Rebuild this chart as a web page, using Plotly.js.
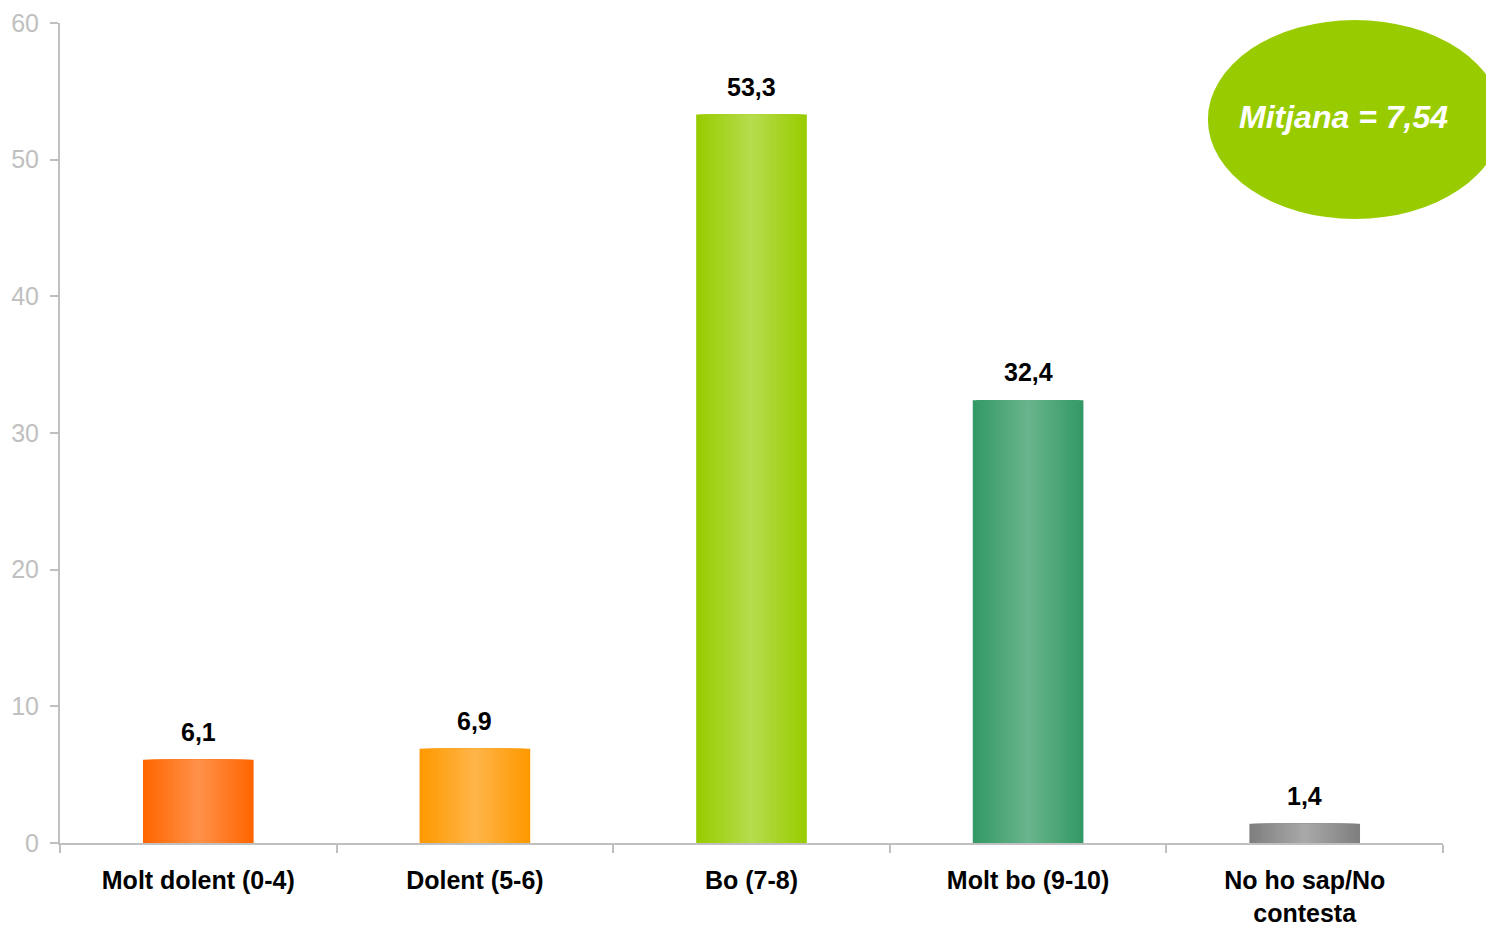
<!DOCTYPE html>
<html>
<head>
<meta charset="utf-8">
<script src="https://cdn.plot.ly/plotly-3.0.1.min.js"></script>
<style>
  html, body { margin: 0; padding: 0; background: #fff; }
  #chart { width: 1486px; height: 929px; }
</style>
</head>
<body>
<div id="chart"></div>
<script>
const categories = ["Molt dolent (0-4)", "Dolent (5-6)", "Bo (7-8)", "Molt bo (9-10)", "No ho sap/No<br>contesta"];
const values = [6.1, 6.9, 53.3, 32.4, 1.4];
const edgeColors = ["#FF6600", "#FF9900", "#99CC00", "#339966", "#7F7F7F"];
const centerColors = ["#FF9048", "#FFB448", "#B5DC4C", "#68B48C", "#A8A8A8"];
const meanLabel = "Mitjana = 7,54";
const yTicks = [0, 10, 20, 30, 40, 50, 60];

function hexToRgb(h) {
  return [parseInt(h.slice(1,3),16), parseInt(h.slice(3,5),16), parseInt(h.slice(5,7),16)];
}
function mix(a, b, t) {
  const A = hexToRgb(a), B = hexToRgb(b);
  const c = A.map((v, i) => Math.round(v + (B[i] - v) * t));
  return `rgb(${c[0]},${c[1]},${c[2]})`;
}

const nLayers = 18;
const barWidth = 0.4;
const traces = [];
for (let k = 0; k < nLayers; k++) {
  const t = k / (nLayers - 1);
  const w = barWidth * (1 - k / nLayers);
  const cols = edgeColors.map((e, i) => mix(e, centerColors[i], t));
  traces.push({
    type: "bar",
    x: categories,
    y: values,
    width: w,
    marker: { color: cols, line: { width: 0 } },
    hoverinfo: "skip",
    showlegend: false
  });
}

const fam = "Liberation Sans, Arial, sans-serif";
const annotations = values.map((v, i) => ({
  x: categories[i],
  y: v,
  xref: "x",
  yref: "y",
  text: v.toFixed(1).replace(".", ","),
  showarrow: false,
  yanchor: "bottom",
  yshift: 12,
  font: { family: fam, size: 25, color: "#000000", weight: "bold" }
}));

annotations.push({
  x: 0.9277, y: 0.885, xref: "paper", yref: "paper",
  text: "<b><i>" + meanLabel + "</i></b>",
  showarrow: false,
  xanchor: "center", yanchor: "middle",
  font: { family: fam, size: 32, color: "#FFFFFF" }
});

const layout = {
  width: 1486,
  height: 929,
  margin: { l: 60, r: 43, t: 23, b: 86, pad: 0 },
  paper_bgcolor: "#FFFFFF",
  plot_bgcolor: "#FFFFFF",
  barmode: "overlay",
  showlegend: false,
  xaxis: {
    type: "category",
    range: [-0.5, 4.5],
    showline: true,
    linecolor: "#C0C0C0",
    linewidth: 2,
    ticks: "outside",
    tickson: "boundaries",
    ticklen: 8,
    tickwidth: 2,
    tickcolor: "#C0C0C0",
    showgrid: false,
    zeroline: false,
    ticklabelstandoff: 14,
    tickfont: { family: fam, size: 25, color: "#000000", weight: "bold" }
  },
  yaxis: {
    range: [0, 60],
    tickvals: yTicks,
    showline: true,
    linecolor: "#C0C0C0",
    linewidth: 2,
    ticks: "outside",
    ticklen: 8,
    tickwidth: 2,
    tickcolor: "#C0C0C0",
    showgrid: false,
    zeroline: false,
    ticklabelstandoff: 6,
    tickfont: { family: fam, size: 25, color: "#C0C0C0" }
  },
  shapes: [{
    type: "circle",
    xref: "paper", yref: "paper",
    x0: 0.830, x1: 1.0427, y0: 0.761, y1: 1.0037,
    fillcolor: "#99CC00",
    line: { width: 0 },
    layer: "above"
  }],
  annotations: annotations
};

Plotly.newPlot("chart", traces, layout, { displayModeBar: false, staticPlot: true });
</script>
</body>
</html>
